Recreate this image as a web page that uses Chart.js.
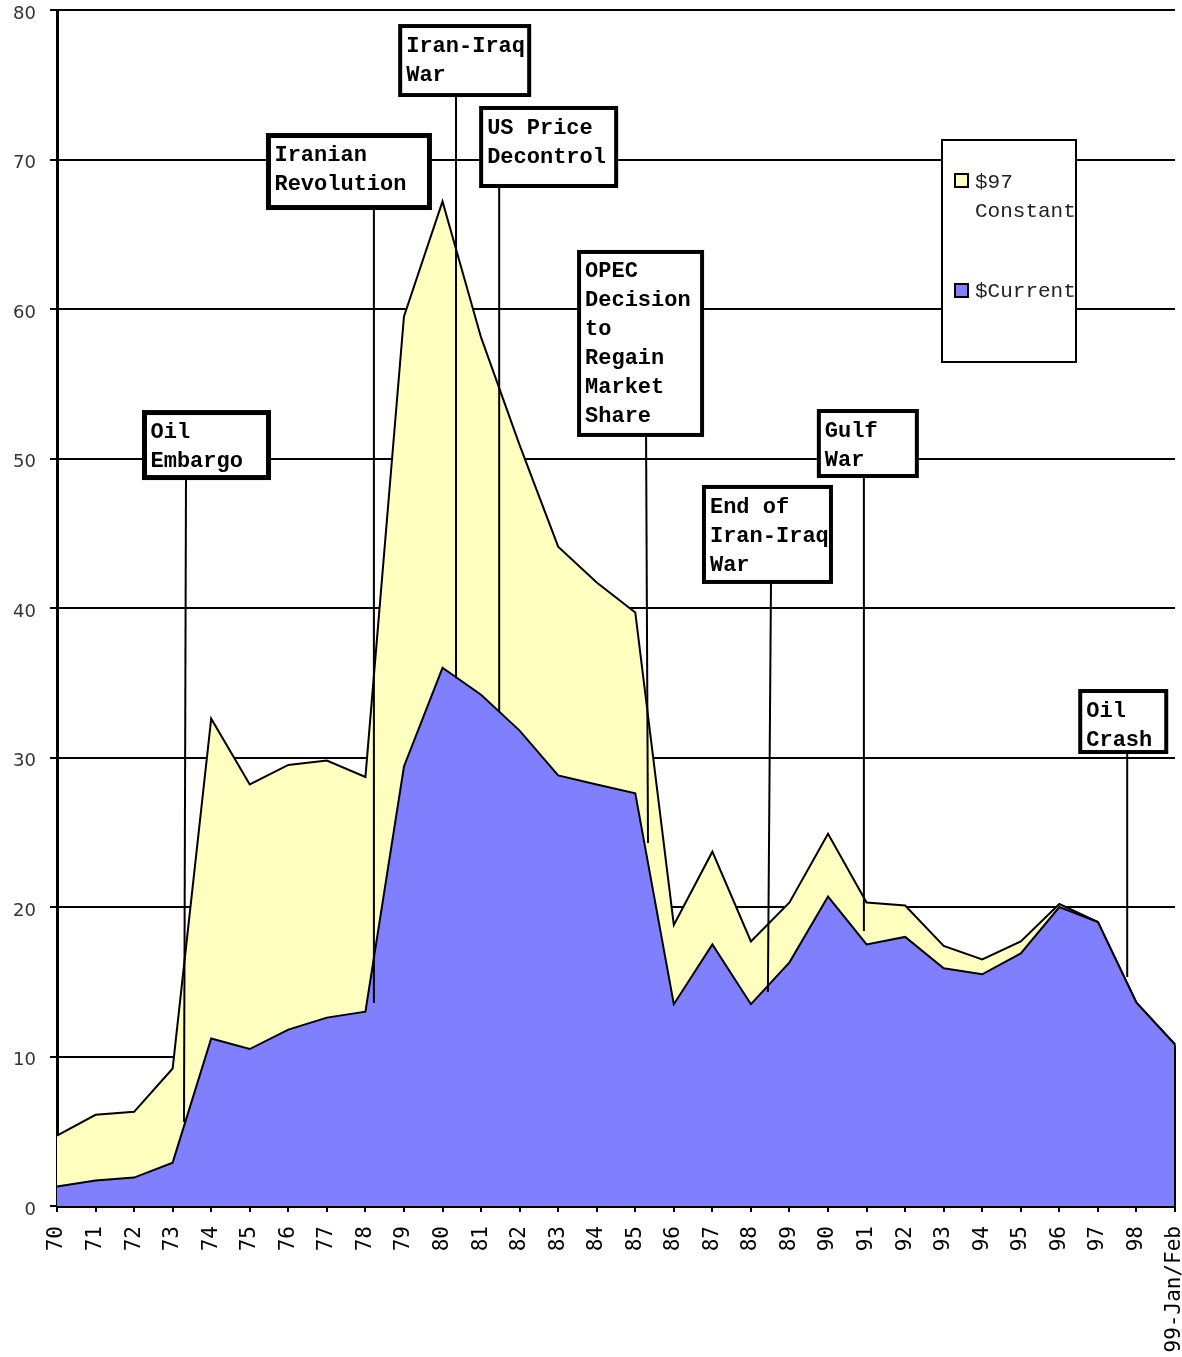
<!DOCTYPE html>
<html>
<head>
<meta charset="utf-8">
<script src="https://cdn.jsdelivr.net/npm/chart.js@4"></script>
<style>
  html, body { margin: 0; padding: 0; background: #fff; }
  #wrap { width: 1182px; height: 1357px; }
</style>
</head>
<body>
<div id="wrap"><canvas id="oilChart"></canvas></div>
<script>
// years, 1970 .. early 1999
const years = ['70', '71', '72', '73', '74', '75', '76', '77', '78', '79',
    '80', '81', '82', '83', '84', '85', '86', '87', '88', '89',
    '90', '91', '92', '93', '94', '95', '96', '97', '98', '99-Jan/Feb'];

// price in 1997 dollars
const constant97 = [4.7, 6.1, 6.3, 9.2, 32.6, 28.2, 29.5, 29.8, 28.7, 59.5,
    67.2, 58.1, 50.9, 44.1, 41.7, 39.7, 18.8, 23.7, 17.7, 20.3,
    24.9, 20.3, 20.1, 17.4, 16.5, 17.7, 20.2, 19.0, 13.6, 10.8];

// price in current dollars
const current = [1.3, 1.7, 1.9, 2.9, 11.2, 10.5, 11.8, 12.6, 13.0, 29.4,
    36.0, 34.2, 31.8, 28.8, 28.2, 27.6, 13.5, 17.5, 13.5, 16.3,
    20.7, 17.5, 18.0, 15.9, 15.5, 16.9, 20.0, 19.0, 13.6, 10.8];

const yTicks = [0, 10, 20, 30, 40, 50, 60, 70, 80];

// event boxes: box top-left and line tip in data units (x = year index)
const events = [
    { lines: ['Oil', 'Embargo'], bx: 2.205, by: 53.24, w: 129, h: 70, bw: 5, lx: 3.346, tx: 3.294, ty: 5.62 },
    { lines: ['Iranian', 'Revolution'], bx: 5.42, by: 71.77, w: 166, h: 77, bw: 5, lx: 8.22, tx: 8.22, ty: 13.58 },
    { lines: ['Iran-Iraq', 'War'], bx: 8.85, by: 79.06, w: 133, h: 73, bw: 4, lx: 10.35, tx: 10.35, ty: 35.3 },
    { lines: ['US Price', 'Decontrol'], bx: 10.95, by: 73.58, w: 139, h: 82, bw: 4, lx: 11.47, tx: 11.47, ty: 33.04 },
    { lines: ['OPEC', 'Decision', 'to', 'Regain', 'Market', 'Share'], bx: 13.49, by: 63.95, w: 127, h: 187, bw: 4, lx: 15.28, tx: 15.33, ty: 24.28 },
    { lines: ['End of', 'Iran-Iraq', 'War'], bx: 16.73, by: 48.23, w: 131, h: 99, bw: 4, lx: 18.52, tx: 18.44, ty: 14.31 },
    { lines: ['Gulf', 'War'], bx: 19.71, by: 53.31, w: 102, h: 69, bw: 4, lx: 20.93, tx: 20.93, ty: 18.39 },
    { lines: ['Oil', 'Crash'], bx: 26.49, by: 34.58, w: 90, h: 65, bw: 4, lx: 27.76, tx: 27.76, ty: 15.32 }
];

const YELLOW = '#ffffc0';
const BLUE = '#8080ff';

function noPadding(scale) {
    scale.paddingTop = 0;
    scale.paddingBottom = 0;
    scale.paddingLeft = 0;
    scale.paddingRight = 0;
}

// closing edge on the right side of the areas
const edgePlugin = {
    id: 'edge',
    afterDatasetsDraw(chart) {
        const { ctx, scales: { x, y } } = chart;
        const last = years.length - 1;
        ctx.save();
        ctx.strokeStyle = '#000';
        ctx.lineWidth = 2;
        ctx.beginPath();
        ctx.moveTo(x.getPixelForValue(last), y.getPixelForValue(Math.max(constant97[last], current[last])));
        ctx.lineTo(x.getPixelForValue(last), y.getPixelForValue(0));
        ctx.stroke();
        ctx.restore();
    }
};

// event labels with leader lines, plus the legend
const eventPlugin = {
    id: 'events',
    afterDraw(chart) {
        const { ctx, scales: { x, y } } = chart;
        ctx.save();
        events.forEach(ev => {
            const left = x.getPixelForValue(ev.bx);
            const top = y.getPixelForValue(ev.by);
            const bottom = top + ev.h;

            ctx.strokeStyle = '#000';
            ctx.lineWidth = 2;
            ctx.beginPath();
            ctx.moveTo(x.getPixelForValue(ev.lx), bottom);
            ctx.lineTo(x.getPixelForValue(ev.tx), y.getPixelForValue(ev.ty));
            ctx.stroke();

            ctx.fillStyle = '#fff';
            ctx.fillRect(left, top, ev.w, ev.h);
            ctx.lineWidth = ev.bw;
            ctx.strokeRect(left + ev.bw / 2, top + ev.bw / 2, ev.w - ev.bw, ev.h - ev.bw);

            ctx.fillStyle = '#000';
            ctx.font = 'bold 22px "Liberation Mono", "DejaVu Sans Mono", monospace';
            ctx.textBaseline = 'middle';
            ctx.textAlign = 'left';
            ev.lines.forEach((t, i) => {
                ctx.fillText(t, left + ev.bw / 2 + 6, top + 22 + i * 29);
            });
        });

        // legend box
        const lx = 942, ly = 140, lw = 134, lh = 222;
        ctx.fillStyle = '#fff';
        ctx.fillRect(lx, ly, lw, lh);
        ctx.font = '21px "Liberation Mono", "DejaVu Sans Mono", monospace';
        ctx.fillStyle = '#222';
        ctx.textBaseline = 'middle';
        ctx.fillText('$97', 975, 182);
        ctx.fillText('Constant', 975, 211);
        ctx.fillText('$Current', 975, 291);
        [[YELLOW, 174], [BLUE, 284]].forEach(([c, yy]) => {
            ctx.fillStyle = c;
            ctx.fillRect(955, yy, 13, 13);
            ctx.strokeStyle = '#000';
            ctx.lineWidth = 2;
            ctx.strokeRect(955, yy, 13, 13);
        });
        ctx.strokeStyle = '#000';
        ctx.lineWidth = 2;
        ctx.strokeRect(lx, ly, lw, lh);
        ctx.restore();
    }
};

new Chart(document.getElementById('oilChart'), {
    type: 'line',
    data: {
        labels: years,
        datasets: [
            {
                label: '$Current',
                data: current,
                borderColor: '#000',
                borderWidth: 2,
                backgroundColor: BLUE,
                fill: 'origin',
                pointRadius: 0,
                tension: 0
            },
            {
                label: '$97 Constant',
                data: constant97,
                borderColor: '#000',
                borderWidth: 2,
                backgroundColor: YELLOW,
                fill: 'origin',
                pointRadius: 0,
                tension: 0
            }
        ]
    },
    options: {
        responsive: true,
        maintainAspectRatio: false,
        animation: false,
        layout: { padding: { top: 10, right: 7, left: 0, bottom: 0 } },
        plugins: {
            legend: { display: false },
            tooltip: { enabled: false }
        },
        scales: {
            x: {
                offset: false,
                grid: { drawOnChartArea: false, drawTicks: true, tickLength: 6, color: '#000', lineWidth: 2 },
                border: { display: true, color: '#000', width: 3 },
                ticks: {
                    autoSkip: false,
                    minRotation: 90,
                    maxRotation: 90,
                    padding: 14,
                    color: '#000',
                    font: { family: '"DejaVu Sans Mono", monospace', size: 21 }
                },
                afterFit(scale) { scale.height = 151; noPadding(scale); }
            },
            y: {
                min: 0,
                max: 80,
                afterBuildTicks(scale) { scale.ticks = yTicks.map(v => ({ value: v })); },
                grid: { color: '#000', lineWidth: 2, tickLength: 7, drawTicks: true },
                border: { display: true, color: '#000', width: 3 },
                ticks: {
                    padding: 14,
                    labelOffset: 4,
                    color: '#333',
                    font: { family: '"DejaVu Sans", sans-serif', size: 18 }
                },
                afterFit(scale) { scale.width = 57; noPadding(scale); }
            }
        }
    },
    plugins: [edgePlugin, eventPlugin]
});
</script>
</body>
</html>
